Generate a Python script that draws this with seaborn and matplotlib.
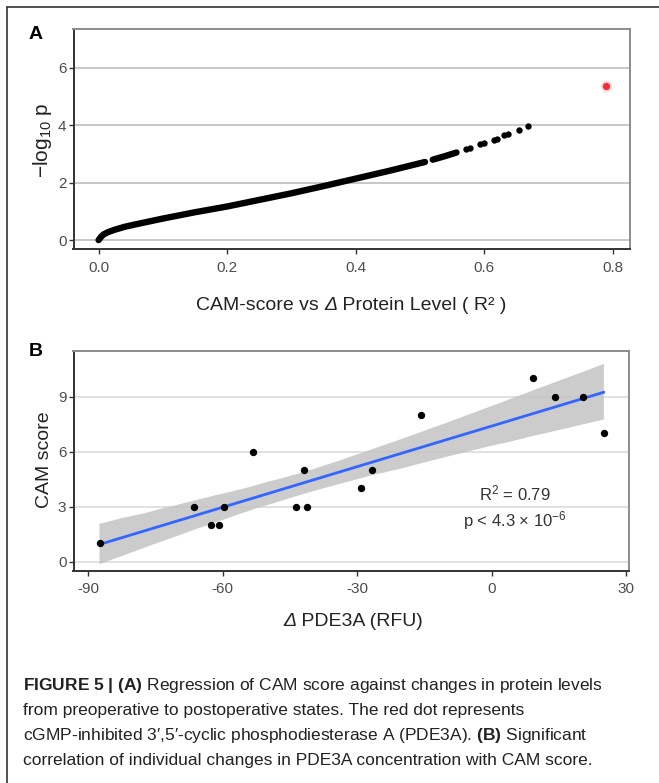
import numpy as np
import pandas as pd
import matplotlib
matplotlib.use("Agg")
import matplotlib.pyplot as plt
import seaborn as sns
from matplotlib.lines import Line2D

# ---------------- Panel A data ----------------
band1_r2 = [0.0, 0.004, 0.008, 0.015, 0.025, 0.04, 0.06, 0.10, 0.15, 0.20,
            0.25, 0.30, 0.35, 0.40, 0.45, 0.508]
band1_logp = [0.0, 0.12, 0.20, 0.28, 0.36, 0.46, 0.56, 0.75, 0.97, 1.17,
              1.40, 1.63, 1.88, 2.14, 2.40, 2.72]
band2_r2 = [0.520, 0.540, 0.557]
band2_logp = [2.80, 2.93, 3.05]
tail_r2 = [0.5725, 0.5787, 0.5933, 0.5995, 0.6151, 0.6203, 0.6306, 0.6375, 0.6546, 0.6686]
tail_logp = [3.16, 3.22, 3.33, 3.38, 3.47, 3.52, 3.65, 3.69, 3.83, 3.98]
pde3a_r2 = [0.789]
pde3a_logp = [5.36]

# ---------------- Panel B data ----------------
pde3a_delta = [-87.5, -66.5, -62.6, -60.9, -59.8, -53.2, -43.6, -41.8, -41.3,
               -29.2, -26.8, -15.9, 9.2, 14.0, 20.4, 25.0]
cam_score = [1, 3, 2, 2, 3, 6, 3, 5, 3, 4, 5, 8, 10, 9, 9, 7]

a_xticks = [0.0, 0.2, 0.4, 0.6, 0.8]
a_yticks = [0, 2, 4, 6]
b_xticks = [-90, -60, -30, 0, 30]
b_yticks = [0, 3, 6, 9]

caption_lines = [
    r"$\mathbf{FIGURE\ 5\ |\ (A)}$ Regression of CAM score against changes in protein levels",
    "from preoperative to postoperative states. The red dot represents",
    r"cGMP-inhibited 3′,5′-cyclic phosphodiesterase A (PDE3A). $\mathbf{(B)}$ Significant",
    "correlation of individual changes in PDE3A concentration with CAM score.",
]

sns.set_style("white")
FONT = ["Liberation Sans", "DejaVu Sans"]
plt.rcParams["font.family"] = FONT
plt.rcParams["mathtext.fontset"] = "custom"
plt.rcParams["mathtext.rm"] = "Liberation Sans"
plt.rcParams["mathtext.it"] = "Liberation Sans:italic"
plt.rcParams["mathtext.bf"] = "Liberation Sans:bold"
plt.rcParams["mathtext.sf"] = "Liberation Sans"
plt.rcParams["axes.unicode_minus"] = False

W, H = 659, 783
fig = plt.figure(figsize=(W / 100, H / 100), dpi=100)


def fx(px):
    return px / W


def fy(py):
    return 1 - py / H


def style_axes(ax, gridcolor):
    ax.set_axisbelow(True)
    ax.yaxis.grid(True, color=gridcolor, lw=1.2)
    ax.xaxis.grid(False)
    for s in ["left", "bottom"]:
        ax.spines[s].set_color("#333333")
        ax.spines[s].set_linewidth(1.4)
    for s in ["top", "right"]:
        ax.spines[s].set_color("#8c8c8c")
        ax.spines[s].set_linewidth(1.4)
    ax.tick_params(axis="both", which="major", length=3.6, width=1.0,
                   color="#333333", labelcolor="#4d4d4d", labelsize=11,
                   direction="out", left=True, bottom=True)
    ax.tick_params(axis="x", pad=4.5)
    ax.tick_params(axis="y", pad=1.5)


# ---------------- Panel A ----------------
axA = fig.add_axes([fx(73.5), fy(249.3), fx(630) - fx(73.5), fy(29.3) - fy(249.3)])
dfb1 = pd.DataFrame({"r2": band1_r2, "logp": band1_logp})
dfb2 = pd.DataFrame({"r2": band2_r2, "logp": band2_logp})
dft = pd.DataFrame({"r2": tail_r2, "logp": tail_logp})
dfr = pd.DataFrame({"r2": pde3a_r2, "logp": pde3a_logp})
for d in (dfb1, dfb2):
    sns.lineplot(data=d, x="r2", y="logp", ax=axA, color="black", lw=4.6,
                 solid_capstyle="round", sort=False, estimator=None)
sns.scatterplot(data=dft, x="r2", y="logp", ax=axA, color="black", s=21,
                linewidth=0)
sns.scatterplot(data=dfr, x="r2", y="logp", ax=axA, color="#ff9999", s=70,
                linewidth=0, alpha=0.35)
sns.scatterplot(data=dfr, x="r2", y="logp", ax=axA, color="#f0303a", s=28,
                linewidth=0)
axA.set_xlim(-0.039, 0.827)
axA.set_ylim(-0.32, 7.34)
axA.set_xticks(a_xticks)
axA.set_xticklabels([f"{v:.1f}" for v in a_xticks])
axA.set_yticks(a_yticks)
style_axes(axA, "#bdbdbd")
axA.set_xlabel("")
axA.set_ylabel(r"$-\mathrm{log}_{10}\ \mathrm{p}$", fontsize=15, color="#222222")
axA.yaxis.set_label_coords(-0.0566, 0.497)
axA.yaxis.label.set_va("center")

# ---------------- Panel B ----------------
axB = fig.add_axes([fx(73.5), fy(570.7), fx(629) - fx(73.5), fy(350.7) - fy(570.7)])
dfB = pd.DataFrame({"delta": pde3a_delta, "cam": cam_score})
sns.regplot(data=dfB, x="delta", y="cam", ax=axB, scatter=False, ci=95,
            n_boot=2000, seed=3, color="#999999", truncate=True,
            line_kws={"color": "#3366ff", "lw": 2.0})
for coll in axB.collections:
    coll.set_facecolor("#c4c4c4")
    coll.set_alpha(0.85)
    coll.set_edgecolor("none")
sns.scatterplot(data=dfB, x="delta", y="cam", ax=axB, color="black", s=28,
                linewidth=0, zorder=3)
axB.set_xlim(-93.3, 30.6)
axB.set_ylim(-0.49, 11.51)
axB.set_xticks(b_xticks)
axB.set_yticks(b_yticks)
style_axes(axB, "#dcdcdc")
axB.set_xlabel("")
axB.set_ylabel("CAM score", fontsize=14, color="#222222")
axB.yaxis.set_label_coords(-0.053, 0.503)
axB.yaxis.label.set_va("center")
axB.text(5.1, 3.73, r"R$^2$ = 0.79", ha="center", va="center",
         fontsize=12, color="#333333")
axB.text(5.1, 2.24, r"p < 4.3 × 10$^{-6}$", ha="center", va="center",
         fontsize=12, color="#333333")

# x-axis titles with an italic Delta, built from text pieces
t1 = fig.text(fx(196), fy(305), "CAM-score vs ", fontsize=14, color="#222222",
              ha="left", va="center")
t2 = axA.annotate("Δ", xy=(1, 0), xycoords=t1, fontsize=14, color="#222222",
                  style="italic", ha="left", va="bottom", annotation_clip=False)
t3 = axA.annotate(" Protein Level ( R² )", xy=(1, 0), xycoords=t2,
                  fontsize=14, color="#222222", ha="left", va="bottom",
                  annotation_clip=False)
u1 = fig.text(fx(283), fy(621.7), "Δ", fontsize=14, color="#222222",
              style="italic", ha="left", va="center")
u2 = axB.annotate(" PDE3A (RFU)", xy=(1, 0), xycoords=u1, fontsize=14,
                  color="#222222", ha="left", va="bottom", annotation_clip=False)

# ---------------- panel letters, frame, caption ----------------
fig.text(fx(36), fy(34.3), "A", fontsize=14, fontweight="bold", ha="center",
         va="center", color="black")
fig.text(fx(36), fy(351.7), "B", fontsize=14, fontweight="bold", ha="center",
         va="center", color="black")
fig.add_artist(Line2D([fx(7), fx(7)], [fy(7), 0], color="#333333", lw=1.2))
fig.add_artist(Line2D([fx(7), 1], [fy(7), fy(7)], color="#333333", lw=1.2))

for i, line in enumerate(caption_lines):
    fig.text(fx(23), fy(685.7 + 24.8 * i), line, fontsize=12.5, ha="left",
             va="center", color="#222222")

fig.savefig("out.png", dpi=100)
